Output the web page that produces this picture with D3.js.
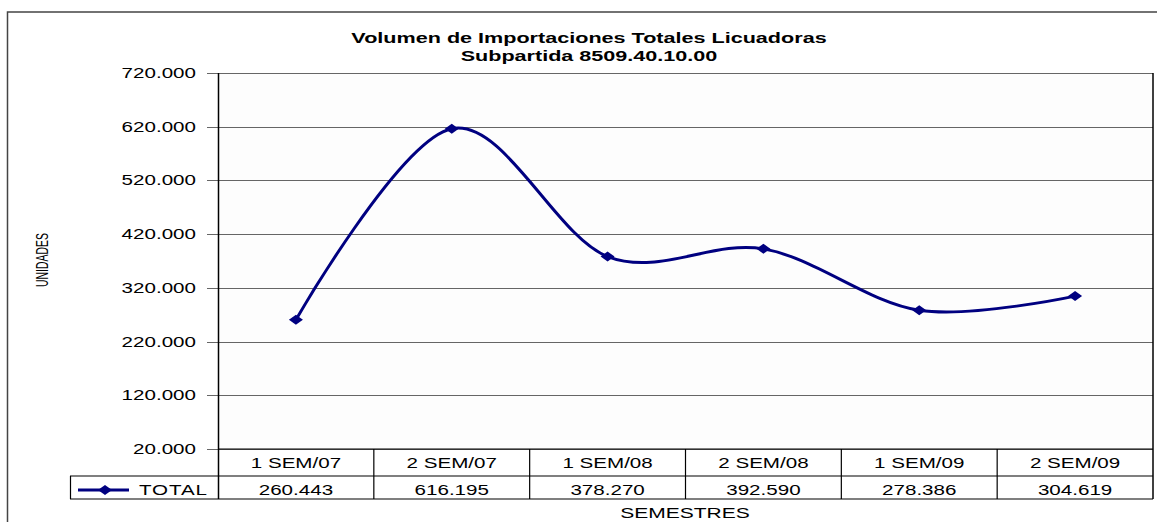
<!DOCTYPE html>
<html><head><meta charset="utf-8">
<script src="https://cdn.jsdelivr.net/npm/d3@7"></script>
<style>body{margin:0;background:#fff}svg{display:block}text{font-family:"Liberation Sans",Arial,sans-serif}</style>
</head><body>
<svg id="c" width="1157" height="522"></svg>
<script>
const categories = ["1 SEM/07","2 SEM/07","1 SEM/08","2 SEM/08","1 SEM/09","2 SEM/09"];
const totals = [260443, 616195, 378270, 392590, 278386, 304619];
const totalLabels = ["260.443","616.195","378.270","392.590","278.386","304.619"];
const yTicks = [20000,120000,220000,320000,420000,520000,620000,720000];
const seriesName = "TOTAL";
const title1 = "Volumen de Importaciones Totales Licuadoras";
const title2 = "Subpartida 8509.40.10.00";

const svg = d3.select("#c");
const L = 218, R = 1153, T = 73, B = 449;
const navy = "#000080";
const SX = 1.47, FS = 14;

// helper: horizontally stretched text
function wideText(sel, data, fx, fy, ftext, anchor, opts={}) {
  const g = sel.append("g").selectAll("g").data(data).join("g")
    .attr("transform",(d,i)=>`translate(${fx(d,i)},${fy(d,i)}) scale(${opts.sx||SX},1)`);
  const t = g.append("text").attr("text-anchor",anchor).attr("font-size",opts.fs||FS).attr("fill","#000")
    .text((d,i)=>ftext(d,i));
  if (opts.bold) t.attr("font-weight","bold");
  if (opts.ls) t.attr("letter-spacing",opts.ls);
  return t;
}

// outer border
svg.append("rect").attr("x",7.5).attr("y",12).attr("width",1160).attr("height",520)
  .attr("fill","none").attr("stroke","#444").attr("stroke-width",1.5);

const x = d3.scaleBand().domain(categories).range([L,R]);
const y = d3.scaleLinear().domain([20000,720000]).range([B,T]);

// plot area bg
svg.append("rect").attr("x",L).attr("y",T).attr("width",R-L).attr("height",B-T).attr("fill","#fdfdfd");

// gridlines
svg.append("g").selectAll("line").data(yTicks).join("line")
  .attr("x1",L-11).attr("x2",R).attr("y1",d=>Math.round(y(d))+0.5).attr("y2",d=>Math.round(y(d))+0.5)
  .attr("stroke","#666").attr("stroke-width",1.2);

// y axis (positions via scale, labels drawn stretched)
const fmt = d => d3.format(",.0f")(d/1000).replace(/,/g,".") + ".000";
const yAxis = d3.axisLeft(y).tickValues(yTicks).tickSize(0).tickFormat("");
const ga = svg.append("g").attr("transform",`translate(${L},0)`).call(yAxis);
ga.select(".domain").remove();
wideText(svg, yTicks, d=>196, d=>y(d)+5, d=>fmt(d), "end");

svg.append("line").attr("x1",L+0.5).attr("x2",L+0.5).attr("y1",T).attr("y2",499).attr("stroke","#000").attr("stroke-width",1.5);
svg.append("line").attr("x1",R).attr("x2",R).attr("y1",T).attr("y2",499).attr("stroke","#000").attr("stroke-width",1.5);

// data table
const rowTop = B, row1 = 476, row2 = 499;
svg.append("line").attr("x1",L).attr("x2",R).attr("y1",rowTop).attr("y2",rowTop).attr("stroke","#000").attr("stroke-width",1.2);
svg.append("line").attr("x1",70).attr("x2",R).attr("y1",row1).attr("y2",row1).attr("stroke","#000").attr("stroke-width",1.2);
svg.append("line").attr("x1",70).attr("x2",R).attr("y1",row2).attr("y2",row2).attr("stroke","#000").attr("stroke-width",1.2);
svg.append("line").attr("x1",70.5).attr("x2",70.5).attr("y1",row1).attr("y2",row2).attr("stroke","#000").attr("stroke-width",1.2);
svg.append("g").selectAll("line").data(categories.slice(1)).join("line")
  .attr("x1",d=>x(d)).attr("x2",d=>x(d)).attr("y1",rowTop).attr("y2",row2).attr("stroke","#000").attr("stroke-width",1.2);
wideText(svg, categories, d=>x(d)+x.bandwidth()/2, d=>468, d=>d, "middle");
wideText(svg, totalLabels, (d,i)=>x(categories[i])+x.bandwidth()/2, d=>495, d=>d, "middle");

// legend in table
const diamond = (cx,cy) => `M${cx-7},${cy}L${cx},${cy-5}L${cx+7},${cy}L${cx},${cy+5}Z`;
svg.append("line").attr("x1",78).attr("x2",129).attr("y1",490).attr("y2",490).attr("stroke",navy).attr("stroke-width",3);
svg.append("path").attr("d",diamond(105,490)).attr("fill",navy);
wideText(svg, [seriesName], d=>139, d=>495, d=>d, "start", {ls:0.6});

// line
const pts = totals.map((v,i)=>[x(categories[i])+x.bandwidth()/2, y(v)]);
svg.append("path").attr("d",d3.line().curve(d3.curveCardinal.tension(0))(pts))
  .attr("fill","none").attr("stroke",navy).attr("stroke-width",3);
svg.append("g").selectAll("path").data(pts).join("path").attr("d",d=>diamond(d[0],d[1])).attr("fill",navy);

// titles
wideText(svg, [title1, title2], d=>589, (d,i)=>43+i*18, d=>d, "middle", {bold:true, fs:15, sx:1.44});

// axis titles
svg.append("text").attr("transform","translate(48,260) rotate(-90)").attr("text-anchor","middle")
  .attr("font-size",16).attr("font-family","Liberation Sans Narrow, Arial Narrow, sans-serif").attr("textLength",54).attr("lengthAdjust","spacingAndGlyphs").text("UNIDADES");
wideText(svg, ["SEMESTRES"], d=>685, d=>518, d=>d, "middle", {sx:1.5});
</script>
</body></html>
